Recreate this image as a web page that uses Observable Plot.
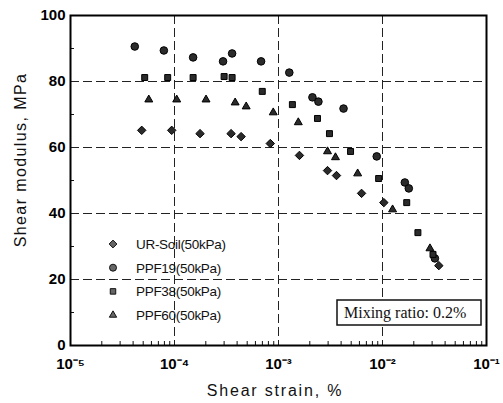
<!DOCTYPE html>
<html><head><meta charset="utf-8">
<script src="https://cdn.jsdelivr.net/npm/d3@7"></script>
<script src="https://cdn.jsdelivr.net/npm/@observablehq/plot@0.6"></script>
<style>
html,body{margin:0;padding:0;background:#fff;}
#chart{position:relative;width:503px;height:403px;}
#chart g[aria-label="y-axis tick label"], #chart g[aria-label="x-axis tick label"] {font-weight:bold;}
</style>
</head><body><div id="chart"></div>
<script>
const seriesNames = ["UR-Soil(50kPa)", "PPF19(50kPa)", "PPF38(50kPa)", "PPF60(50kPa)"];

const strainUR = [4.84e-5, 9.4e-5, 1.76e-4, 3.5e-4, 4.37e-4, 8.34e-4, 1.59e-3, 2.96e-3, 3.61e-3, 6.29e-3, 1.03e-2, 3.48e-2];
const modulusUR = [65.2, 65.2, 64.2, 64.2, 63.3, 61.2, 57.6, 53.0, 51.5, 46.1, 43.3, 24.2];

const strainP19 = [4.15e-5, 7.9e-5, 1.51e-4, 2.93e-4, 3.58e-4, 6.8e-4, 1.27e-3, 2.12e-3, 2.42e-3, 4.22e-3, 8.8e-3, 1.64e-2, 1.79e-2, 3.19e-2];
const modulusP19 = [90.6, 89.4, 87.3, 86.1, 88.5, 86.1, 82.7, 75.2, 73.9, 71.8, 57.3, 49.4, 47.6, 26.4];

const strainP38 = [5.17e-5, 8.6e-5, 1.51e-4, 3.0e-4, 3.58e-4, 6.98e-4, 1.36e-3, 2.37e-3, 3.09e-3, 4.93e-3, 9.18e-3, 1.71e-2, 2.19e-2, 3.06e-2];
const modulusP38 = [81.2, 81.2, 81.2, 81.5, 81.2, 77.0, 73.0, 68.8, 64.2, 58.8, 50.6, 43.3, 34.2, 27.6];

const strainP60 = [5.66e-5, 1.05e-4, 2.01e-4, 3.83e-4, 4.89e-4, 8.9e-4, 1.55e-3, 2.96e-3, 3.53e-3, 5.77e-3, 1.25e-2, 2.86e-2];
const modulusP60 = [74.5, 74.5, 74.5, 73.6, 72.4, 70.6, 67.6, 58.8, 57.0, 52.1, 41.2, 29.4];

const xMajorTicks = [1e-5, 1e-4, 1e-3, 1e-2, 1e-1];
const xTickLabels = ["10⁻⁵", "10⁻⁴", "10⁻³", "10⁻²", "10⁻¹"];
const yMajorTicks = [0, 20, 40, 60, 80, 100];
const yMinorTicks = [10, 30, 50, 70, 90];
const xGrid = [1e-4, 1e-3, 1e-2];
const yGrid = [20, 40, 60, 80];
const xTitle = "Shear strain, %";
const yTitle = "Shear modulus, MPa";
const noteText = "Mixing ratio: 0.2%";

const symbols = ["diamond2", "circle", "square2", "triangle2"];

const allStrain = [strainUR, strainP19, strainP38, strainP60];
const allModulus = [modulusUR, modulusP19, modulusP38, modulusP60];
const data = [];
seriesNames.forEach((s, i) => allStrain[i].forEach((x, j) => data.push({series: s, strain: x, modulus: allModulus[i][j]})));

const xMinorTicks = [];
for (let e = -5; e < -1; e++) for (let k = 2; k <= 9; k++) xMinorTicks.push(k * Math.pow(10, e));

const W = 503, H = 403, mL = 70, mR = 17, mT = 15, mB = 58;
const fw = W - mL - mR, fh = H - mT - mB;

const plot = Plot.plot({
  width: W, height: H,
  marginLeft: mL, marginRight: mR, marginTop: mT, marginBottom: mB,
  style: {background: "#fff", fontFamily: "'Liberation Sans', Arial, sans-serif"},
  x: {type: "log", domain: [1e-5, 1e-1]},
  y: {domain: [0, 100]},
  symbol: {domain: seriesNames, range: symbols},
  marks: [
    Plot.ruleY(yGrid, {stroke: "#222", strokeWidth: 1, strokeDasharray: "9,4"}),
    Plot.ruleX(xGrid, {stroke: "#222", strokeWidth: 1, strokeDasharray: "9,4"}),
    Plot.tickX(xMinorTicks, {x: d => d, stroke: "#111", strokeWidth: 1, insetTop: fh - 4}),
    Plot.tickY(yMinorTicks, {y: d => d, stroke: "#111", strokeWidth: 1, insetRight: fw - 4}),
    Plot.axisY({ticks: yMajorTicks, tickSize: 0, tickPadding: 5, label: null, fontSize: 15, fontWeight: "bold", fill: "#000"}),
    Plot.axisX({ticks: xMajorTicks, tickSize: 0, tickPadding: 13, label: null, fontSize: 15, fontWeight: "bold", fill: "#000",
      tickFormat: d => xTickLabels[xMajorTicks.findIndex(t => Math.abs(Math.log10(t) - Math.log10(d)) < 1e-6)]}),
    Plot.dot(data, {x: "strain", y: "modulus", symbol: "series", r: 3.8, fill: "#2b2b2b", stroke: "#000", strokeWidth: 1}),
    Plot.frame({stroke: "#000", strokeWidth: 2})
  ]
});

document.getElementById("chart").appendChild(plot);

const svg = d3.select(plot);
// axis titles
svg.append("text").attr("x", 275).attr("y", 396).attr("text-anchor", "middle")
  .attr("font-family", "'Liberation Sans', Arial, sans-serif").attr("font-size", 16).attr("letter-spacing", "1.8px").attr("fill", "#111").text(xTitle);
svg.append("text").attr("transform", "translate(26,160) rotate(-90)").attr("text-anchor", "middle")
  .attr("font-family", "'Liberation Sans', Arial, sans-serif").attr("font-size", 16).attr("letter-spacing", "1.4px").attr("fill", "#111").text(yTitle);

// legend
const symMap = {diamond2: d3.symbolDiamond2, circle: d3.symbolCircle, square2: d3.symbolSquare2, triangle2: d3.symbolTriangle2};
const lg = svg.append("g");
seriesNames.forEach((s, i) => {
  const y = 244 + i * 23.7;
  const sym = d3.symbol(symMap[symbols[i]], Math.PI * 3.5 * 3.5);
  lg.append("path").attr("d", sym()).attr("transform", `translate(113,${y})`).attr("fill", "#666").attr("stroke", "#111").attr("stroke-width", 1);
  lg.append("text").attr("x", 136).attr("y", y + 5).attr("text-anchor", "start").attr("font-family", "'Liberation Sans', Arial, sans-serif")
    .attr("font-size", 13.5).attr("letter-spacing", "-0.3px").attr("fill", "#111").text(s);
});

// note box
svg.append("rect").attr("x", 337).attr("y", 300).attr("width", 144).attr("height", 25).attr("fill", "#fff").attr("stroke", "#111").attr("stroke-width", 1.5);
svg.append("text").attr("x", 344).attr("y", 318).attr("text-anchor", "start").attr("font-family", "'Liberation Serif', 'Times New Roman', serif")
  .attr("font-size", 16).attr("fill", "#111").text(noteText);
</script>
</body></html>
